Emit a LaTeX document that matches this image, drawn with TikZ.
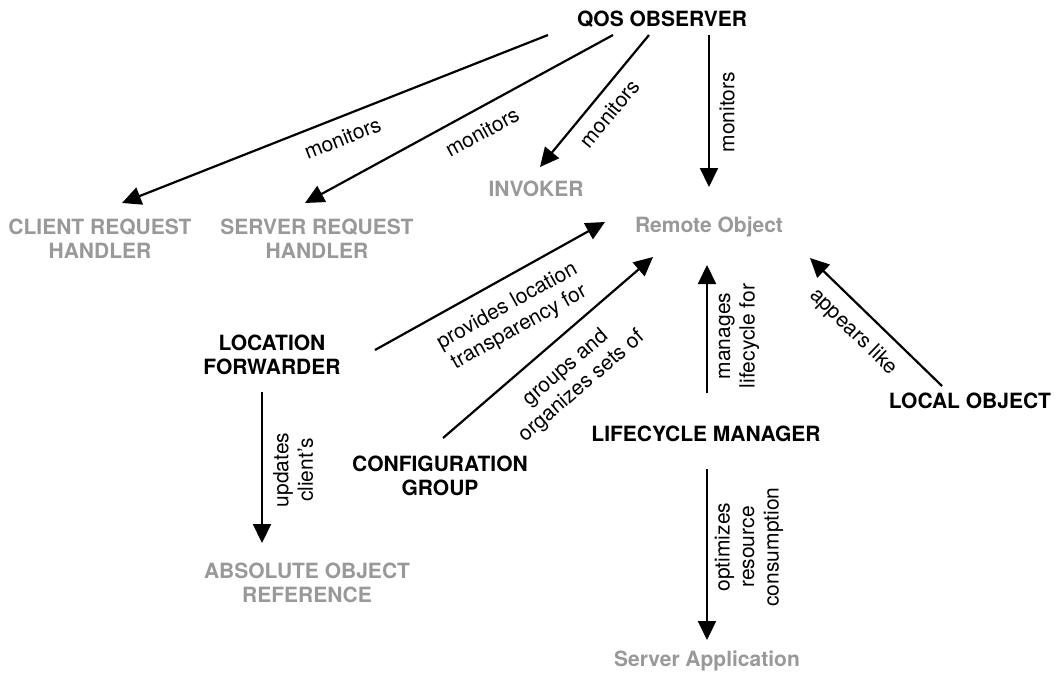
\documentclass[tikz,border=0pt]{standalone}
\usepackage{fontspec}
\setmainfont{TeX Gyre Heros}
\usetikzlibrary{arrows.meta}
\definecolor{dimtext}{RGB}{153,153,153}
\begin{document}
\begin{tikzpicture}[x=1pt,y=-1pt,
  every node/.style={inner sep=0pt, align=center},
  actor/.style={font=\fontsize{21}{24}\selectfont\bfseries, text=black},
  role/.style={font=\fontsize{21}{24}\selectfont\bfseries, text=dimtext},
  lbl/.style={font=\fontsize{21}{24.5}\selectfont},
  arr/.style={line width=2.2pt, -{Triangle[length=19pt,width=18pt]}}
]
\useasboundingbox (0,0) rectangle (1058,675);

% participants
\node[actor] (qos)       at (662,19)  {QOS OBSERVER};
\node[role]  (invoker)   at (536,189) {INVOKER};
\node[role]  (remote)    at (709,227) {Remote Object};
\node[role]  (client)    at (100,239) {CLIENT REQUEST\\HANDLER};
\node[role]  (server)    at (317,239) {SERVER REQUEST\\HANDLER};
\node[actor] (locfwd)    at (272,355) {LOCATION\\FORWARDER};
\node[role]  (absref)    at (307,583) {ABSOLUTE OBJECT\\REFERENCE};
\node[actor] (config)    at (440,476) {CONFIGURATION\\GROUP};
\node[actor] (lifecycle) at (706,434) {LIFECYCLE MANAGER};
\node[actor] (local)     at (970,401) {LOCAL OBJECT};
\node[role]  (serverapp) at (707,661) {Server Application};

% QoS observer monitors
\draw[arr] ([shift={(-114,16)}]qos.center) -- node[lbl, sloped, below=12pt, pos=0.5] (m1) {monitors} ([shift={(22,-36)}]client.center);
\draw[arr] ([shift={(-49,16)}]qos.center) -- node[lbl, sloped, below=14pt, pos=0.46] (m2) {monitors} ([shift={(-12,-36)}]server.center);
\draw[arr] ([shift={(-13,16)}]qos.center) -- node[lbl, sloped, below=11pt, pos=0.5] (m3) {monitors} ([shift={(4,-22)}]invoker.center);
\draw[arr] ([shift={(47,16)}]qos.center) -- ([shift={(0,-40)}]remote.center);
\node[lbl, rotate=90] (m4) at (727,112) {monitors};

% relations towards the remote object
\draw[arr] ([shift={(103,-5)}]locfwd.center) -- node[lbl, sloped, below=15pt, pos=0.52] (pl) {provides location\\transparency for} ([shift={(-104,-5)}]remote.center);
\draw[arr] ([shift={(3,-38)}]config.center) -- node[lbl, sloped, below=16pt, pos=0.5] (go) {groups and\\organizes sets of} ([shift={(-56,30)}]remote.center);
\draw[arr] ([shift={(1,-41)}]lifecycle.center) -- ([shift={(-2,38)}]remote.center);
\node[lbl, rotate=90] (ml) at (739,336) {manages\\lifecycle for};
\draw[arr] ([shift={(-28,-15)}]local.center) -- node[lbl, sloped, below=12pt, pos=0.55] (al) {appears like} ([shift={(101,31)}]remote.center);

% lower relations
\draw[arr] ([shift={(-10,37)}]locfwd.center) -- ([shift={(-45,-40)}]absref.center);
\node[lbl, rotate=90] (uc) at (293,470) {updates\\client's};
\draw[arr] ([shift={(1,35)}]lifecycle.center) -- ([shift={(0,-21)}]serverapp.center);
\node[lbl, rotate=90] (orc) at (749,547) {optimizes\\resource\\consumption};
\end{tikzpicture}
\end{document}
